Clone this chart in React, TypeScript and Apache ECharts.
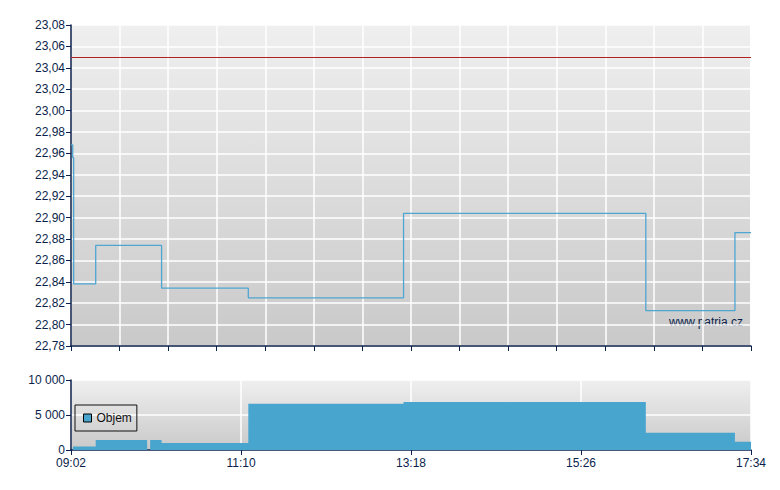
import React, { useEffect, useRef } from "react";
import * as echarts from "echarts";

// minutes after 09:02
const priceTimes = [0, 1.3, 2, 18.6, 68.2, 133.5, 250.4, 432.8, 499.9, 512];
const priceValues = [22.968, 22.956, 22.838, 22.874, 22.834, 22.825, 22.904, 22.813, 22.886, 22.886];
const referencePrice = 23.05;

const volumeTimes = [1.5, 18.6, 57.3, 57.4, 59.6, 68.2, 133.5, 250.4, 432.8, 499.9, 512];
const volumeValues: (number | null)[] = [500, 1430, 1430, null, 1430, 1000, 6600, 6860, 2470, 1190, 1190];

const startMinutes = 9 * 60 + 2;
const fmtTime = (t: number) => {
  const total = Math.round(startMinutes + t);
  const h = Math.floor(total / 60);
  const m = total % 60;
  return String(h).padStart(2, "0") + ":" + String(m).padStart(2, "0");
};

const NAVY = "#0b1f4b";
const FONT = "Liberation Sans, Arial, sans-serif";

export default function App() {
  const ref = useRef<HTMLDivElement>(null);
  useEffect(() => {
    if (!ref.current) return;
    const chart = echarts.init(ref.current, undefined, { renderer: "svg" });
    const bg = () =>
      new echarts.graphic.LinearGradient(0, 0, 0, 1, [
        { offset: 0, color: "#efefef" },
        { offset: 1, color: "#c9c9c9" },
      ]);
    const axisLine = { show: true, lineStyle: { color: NAVY, width: 1.5 } };
    const axisTick = { show: true, length: 5, lineStyle: { color: NAVY, width: 1 } };
    const split = { show: true, lineStyle: { color: "#ffffff", width: 1.5 } };
    chart.setOption({
      animation: false,
      textStyle: { fontFamily: FONT },
      grid: [
        { left: 71, top: 25, width: 680, height: 321, show: true, backgroundColor: bg(), borderWidth: 0 },
        { left: 71, top: 380, width: 680, height: 70, show: true, backgroundColor: bg(), borderWidth: 0 },
      ],
      xAxis: [
        {
          gridIndex: 0, type: "value", min: 0, max: 512, interval: 512 / 14,
          axisLine, axisTick, splitLine: split, axisLabel: { show: false },
        },
        {
          gridIndex: 1, type: "value", min: 0, max: 512, interval: 128,
          axisLine, axisTick, splitLine: split,
          axisLabel: {
            show: true, color: NAVY, fontSize: 12, fontFamily: FONT, margin: 7,
            showMinLabel: true, showMaxLabel: true, formatter: (v: number) => fmtTime(v),
          },
        },
      ],
      yAxis: [
        {
          gridIndex: 0, type: "value", min: 22.78, max: 23.08, interval: 0.02,
          axisLine, axisTick, splitLine: split,
          axisLabel: {
            color: NAVY, fontSize: 12, fontFamily: FONT, margin: 6,
            formatter: (v: number) => v.toFixed(2).replace(".", ","),
          },
        },
        {
          gridIndex: 1, type: "value", min: 0, max: 10000, interval: 5000,
          axisLine, axisTick, splitLine: split,
          axisLabel: {
            color: NAVY, fontSize: 12, fontFamily: FONT, margin: 6,
            formatter: (v: number) => String(Math.round(v)).replace(/\B(?=(\d{3})+(?!\d))/g, " "),
          },
        },
      ],
      legend: {
        data: [{ name: "Objem", icon: "rect", itemStyle: { color: "#47a5ce", borderColor: "#000", borderWidth: 1 } }],
        left: 75, top: 405, orient: "vertical",
        padding: [7, 5, 7, 8], itemWidth: 8, itemHeight: 8,
        borderColor: "#111", borderWidth: 1, backgroundColor: "transparent",
        textStyle: { color: "#111", fontSize: 12, fontFamily: FONT },
      },
      graphic: [
        {
          type: "text", right: 37, top: 316,
          style: { text: "www.patria.cz", fill: NAVY, font: "12px " + FONT },
        },
      ],
      series: [
        {
          name: "Cena", type: "line", xAxisIndex: 0, yAxisIndex: 0, step: "end",
          showSymbol: false, symbol: "none",
          data: priceTimes.map((t, i) => [t, priceValues[i]]),
          lineStyle: { color: "#4ea6d2", width: 1.3 },
          itemStyle: { color: "#4ea6d2" },
          markLine: {
            silent: true, symbol: "none", label: { show: false },
            lineStyle: { color: "#b02020", width: 1, type: "solid" },
            data: [{ yAxis: referencePrice }],
          },
        },
        {
          name: "Objem", type: "line", xAxisIndex: 1, yAxisIndex: 1, step: "end",
          showSymbol: false, symbol: "none", connectNulls: false,
          data: volumeTimes.map((t, i) => [t, volumeValues[i] === null ? "-" : volumeValues[i]]),
          lineStyle: { width: 0, color: "#47a5ce" },
          itemStyle: { color: "#47a5ce" },
          areaStyle: { color: "#47a5ce", opacity: 1 },
        },
      ],
    });
    return () => chart.dispose();
  }, []);
  return (
    <div
      ref={ref}
      style={{ position: "fixed", left: 0, top: 0, width: 780, height: 490, background: "#fff" }}
    />
  );
}
